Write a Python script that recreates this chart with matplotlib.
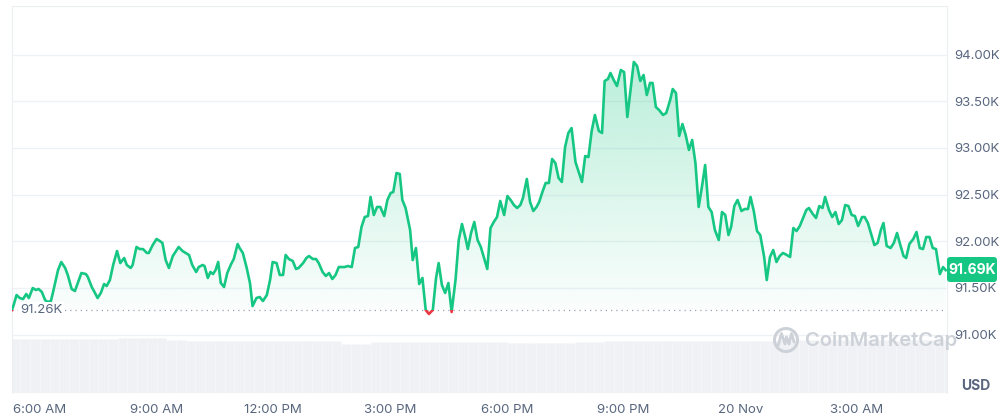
import numpy as np
import matplotlib
matplotlib.use("Agg")
import matplotlib.pyplot as plt
from matplotlib.patches import Rectangle, PathPatch, Circle, FancyBboxPatch
from matplotlib.path import Path

plt.rcParams['font.family'] = ['Inter', 'DejaVu Sans']

# minutes after 6:00 AM (Nov 19) and BTC price in thousands USD
minutes = [-43, -40, -36, -31, -26, -21, -17, -11, -6, -2, 3, 8, 12, 17, 20, 28, 33, 39, 43, 49,
           54, 59, 64, 71, 74, 80, 85, 89, 94, 99, 103, 108, 113, 119, 124, 130, 134, 140, 143, 149,
           154, 159, 165, 168, 174, 180, 185, 189, 194, 199, 205, 210, 214, 220, 225, 230, 235, 241, 245, 251,
           254, 259, 263, 267, 271, 275, 279, 284, 289, 295, 299, 305, 308, 313, 319, 324, 328, 334, 339, 344,
           350, 355, 359, 365, 370, 375, 379, 384, 390, 395, 399, 406, 411, 415, 421, 426, 430, 436, 441, 446,
           451, 456, 461, 470, 475, 481, 486, 491, 496, 501, 506, 510, 515, 520, 525, 531, 536, 541, 545, 550,
           555, 559, 564, 571, 575, 580, 585, 590, 595, 600, 606, 611, 615, 620, 625, 630, 635, 641, 646, 651,
           656, 660, 665, 670, 675, 680, 685, 690, 695, 700, 705, 710, 716, 721, 726, 731, 736, 741, 745, 751,
           756, 761, 766, 770, 775, 780, 785, 790, 795, 800, 805, 810, 815, 820, 826, 831, 836, 841, 846, 851,
           856, 862, 867, 871, 876, 880, 885, 890, 896, 901, 906, 911, 916, 921, 926, 931, 936, 941, 945, 950,
           955, 961, 966, 972, 976, 981, 986, 991, 996, 1001, 1006, 1011, 1016, 1021, 1026, 1031, 1036, 1041, 1047, 1052,
           1057, 1062, 1066, 1071, 1076, 1082, 1087, 1092, 1096, 1101, 1106, 1111, 1117, 1121, 1126, 1131, 1136, 1141, 1146, 1152,
           1157, 1162, 1167, 1172, 1177, 1182, 1186, 1192, 1197, 1202, 1207, 1211, 1217, 1222, 1227, 1232, 1237, 1242, 1247, 1252,
           1257, 1262, 1268, 1272, 1277, 1282, 1287, 1292, 1297, 1301, 1306, 1312, 1317, 1322, 1327, 1332, 1336, 1341, 1347, 1352,
           1357, 1362, 1367, 1372, 1377, 1382, 1388, 1393, 1397]
price = [91.263, 91.327, 91.423, 91.391, 91.380, 91.434, 91.391, 91.498, 91.477, 91.488, 91.456, 91.370, 91.348, 91.359, 91.445, 91.691, 91.777, 91.713, 91.638, 91.488,
         91.466, 91.563, 91.659, 91.648, 91.616, 91.509, 91.445, 91.391, 91.445, 91.541, 91.520, 91.584, 91.745, 91.895, 91.766, 91.820, 91.745, 91.713, 91.745, 91.938,
         91.916, 91.916, 91.874, 91.874, 91.959, 92.024, 92.002, 91.981, 91.798, 91.713, 91.841, 91.895, 91.938, 91.895, 91.874, 91.852, 91.745, 91.670, 91.723, 91.745,
         91.734, 91.606, 91.670, 91.648, 91.691, 91.777, 91.552, 91.509, 91.659, 91.756, 91.809, 91.970, 91.927, 91.874, 91.713, 91.552, 91.305, 91.391, 91.402, 91.359,
         91.423, 91.584, 91.777, 91.766, 91.638, 91.638, 91.852, 91.809, 91.788, 91.702, 91.713, 91.766, 91.820, 91.841, 91.809, 91.809, 91.766, 91.670, 91.627, 91.659,
         91.595, 91.638, 91.723, 91.723, 91.734, 91.723, 91.927, 91.938, 92.152, 92.259, 92.270, 92.474, 92.281, 92.367, 92.367, 92.270, 92.442, 92.517, 92.527, 92.731,
         92.720, 92.442, 92.356, 92.120, 91.798, 91.927, 91.541, 91.606, 91.263, 91.220, 91.263, 91.606, 91.766, 91.531, 91.445, 91.552, 91.241, 91.584, 92.013, 92.184,
         92.045, 91.916, 92.088, 92.206, 92.013, 91.938, 91.820, 91.702, 92.141, 92.206, 92.259, 92.431, 92.281, 92.484, 92.442, 92.388, 92.356, 92.388, 92.463, 92.667,
         92.420, 92.324, 92.367, 92.420, 92.527, 92.624, 92.624, 92.881, 92.838, 92.677, 92.635, 93.010, 93.160, 93.213, 92.849, 92.742, 92.635, 92.913, 92.902, 93.181,
         93.353, 93.181, 93.160, 93.717, 93.738, 93.803, 93.728, 93.663, 93.835, 93.813, 93.331, 93.621, 93.921, 93.878, 93.717, 93.781, 93.567, 93.696, 93.696, 93.438,
         93.406, 93.353, 93.374, 93.513, 93.631, 93.588, 93.128, 93.256, 93.138, 92.978, 93.085, 92.838, 92.367, 92.581, 92.817, 92.367, 92.313, 92.120, 92.013, 92.313,
         92.281, 92.066, 92.152, 92.377, 92.442, 92.324, 92.345, 92.345, 92.474, 92.324, 92.109, 92.066, 91.831, 91.584, 91.831, 91.906, 91.777, 91.841, 91.874, 91.852,
         91.831, 92.141, 92.109, 92.163, 92.249, 92.334, 92.356, 92.292, 92.249, 92.377, 92.356, 92.474, 92.334, 92.259, 92.313, 92.184, 92.227, 92.388, 92.377, 92.281,
         92.270, 92.163, 92.259, 92.259, 92.195, 92.077, 91.959, 91.981, 92.120, 92.195, 91.949, 91.927, 91.981, 92.088, 91.959, 91.841, 91.820, 91.970, 92.024, 92.099,
         91.927, 91.916, 92.045, 92.045, 91.927, 91.916, 91.648, 91.723, 91.690]

# 24h volume (billions USD), one value per 15 minutes starting 5:15 AM
volume = [59.1, 59.0, 59.2, 59.1, 59.0, 59.1, 59.2, 59.1, 59.0, 59.1, 59.3,
          60.2, 60.1, 60.3, 60.2, 60.0,
          58.3, 58.2,
          57.0, 56.9, 56.8, 56.9, 57.0, 56.9, 56.8, 56.9, 57.0, 56.9, 56.8, 56.9, 57.0, 56.9, 56.8, 56.9,
          54.0, 53.8, 53.9,
          56.1, 56.0, 56.2, 56.1, 56.0, 56.1, 56.2, 56.1, 56.0, 56.1, 56.2, 56.1,
          56.4, 56.3,
          54.8, 54.6, 54.7, 54.6, 54.8, 54.7, 54.9,
          56.1, 56.0, 56.2,
          57.2, 57.1, 57.3, 57.2, 57.1, 57.2, 57.3, 57.2, 57.1, 57.2, 57.3, 57.2, 57.1, 57.2, 57.3, 57.2, 57.1, 57.2,
          57.8, 57.7, 57.9, 57.8, 57.7, 57.8, 57.9, 57.8, 57.7, 57.8, 57.9, 57.8, 57.7,
          58.3, 58.2, 58.4, 58.3, 58.3]

open_price = 91.26
last_price = 91.69
price_ticks = [91.0, 91.5, 92.0, 92.5, 93.0, 93.5, 94.0]
time_ticks = [0, 180, 360, 540, 720, 900, 1080, 1260]
time_labels = ['6:00 AM', '9:00 AM', '12:00 PM', '3:00 PM', '6:00 PM', '9:00 PM', '20 Nov', '3:00 AM']

GREEN = '#16c784'
RED = '#ea3943'
TXT = '#58667e'

W, H = 1006, 415
xmin, xmax = -43, 1399
ymin, ymax = 90.373, 94.521

fig = plt.figure(figsize=(W / 100, H / 100), dpi=100)
rect = [12 / W, (H - 393) / H, (947 - 12) / W, (393 - 6) / H]

# volume panel behind
vax = fig.add_axes(rect, zorder=0)
vol_t = np.arange(len(volume)) * 15 - 45
vax.bar(vol_t, volume, width=15, align='edge', color='#eff1f4', edgecolor='#f6f7f9', linewidth=0.5)
vax.set_xlim(xmin, xmax)
vax.set_ylim(0, 426)
vax.axis('off')

ax = fig.add_axes(rect, zorder=1)
ax.patch.set_alpha(0)

t = np.array(minutes, dtype=float)
p = np.array(price)

# gradient fill between line and opening price
top = np.maximum(p, open_price)
verts = [(t[0], open_price)] + list(zip(t, top)) + [(t[-1], open_price)]
clip = PathPatch(Path(verts), transform=ax.transData, facecolor='none', edgecolor='none')
ax.add_patch(clip)
grad = np.zeros((256, 1, 4))
grad[:, 0, :3] = matplotlib.colors.to_rgb(GREEN)
grad[:, 0, 3] = np.linspace(0.02, 0.36, 256)
im = ax.imshow(grad, extent=[xmin, xmax, open_price, ymax], origin='lower', aspect='auto', zorder=1)
im.set_clip_path(clip)

# price line: green above open, red below
g_line, = ax.plot(t, p, color=GREEN, lw=1.9, zorder=3, solid_joinstyle='round')
g_line.set_clip_path(Rectangle((xmin, open_price), xmax - xmin, ymax - open_price, transform=ax.transData))
r_line, = ax.plot(t, p, color=RED, lw=1.9, zorder=3, solid_joinstyle='round')
r_line.set_clip_path(Rectangle((xmin, ymin), xmax - xmin, open_price - ymin, transform=ax.transData))

ax.axhline(open_price, color='#9aa3b2', lw=0.9, ls=(0, (1, 3.2)), zorder=2)
ax.text(-31, open_price, '91.26K', color=TXT, fontsize=9.5, va='center', ha='left', zorder=5,
        bbox=dict(facecolor='white', edgecolor='none', pad=1.5))

ax.set_xlim(xmin, xmax)
ax.set_ylim(ymin, ymax)
ax.set_yticks(price_ticks)
ax.set_yticklabels(['%.2fK' % v for v in price_ticks])
ax.yaxis.tick_right()
ax.set_xticks(time_ticks)
ax.set_xticklabels(time_labels)
ax.tick_params(axis='y', length=0, pad=5, labelsize=9.5, labelcolor=TXT)
ax.tick_params(axis='x', length=0, pad=8, labelsize=9.5, labelcolor=TXT)
ax.grid(axis='y', color='#eff2f5', lw=1)
ax.set_axisbelow(True)
for s in ['top', 'left', 'right']:
    ax.spines[s].set_color('#eceef1')
ax.spines['bottom'].set_visible(False)

# overlay in pixel units for labels and watermark
ov = fig.add_axes([0, 0, 1, 1], zorder=5)
ov.set_xlim(0, W)
ov.set_ylim(H, 0)
ov.axis('off')
ov.add_patch(FancyBboxPatch((947, 257), 50, 25, boxstyle='round,pad=0,rounding_size=3',
                            facecolor=GREEN, edgecolor='none'))
ov.text(972, 270, '%.2fK' % last_price, color='white', fontsize=10, fontweight='bold', ha='center', va='center')
ov.text(976, 386, 'USD', color=TXT, fontsize=10, fontweight='bold', ha='center', va='center')

wm = '#cdd2d9'
ov.add_patch(Circle((786, 340), 11.5, facecolor='none', edgecolor=wm, lw=2.2))
ov.plot([778, 781.5, 785, 786.5, 789, 791.5, 794], [346, 333.5, 344, 337, 344, 333.5, 342], color=wm, lw=2.0,
        solid_joinstyle='round', solid_capstyle='round')
ov.text(805, 340.5, 'CoinMarketCap', color=wm, fontsize=14.5, fontweight='semibold', ha='left', va='center')

fig.savefig('out.png', dpi=100)
